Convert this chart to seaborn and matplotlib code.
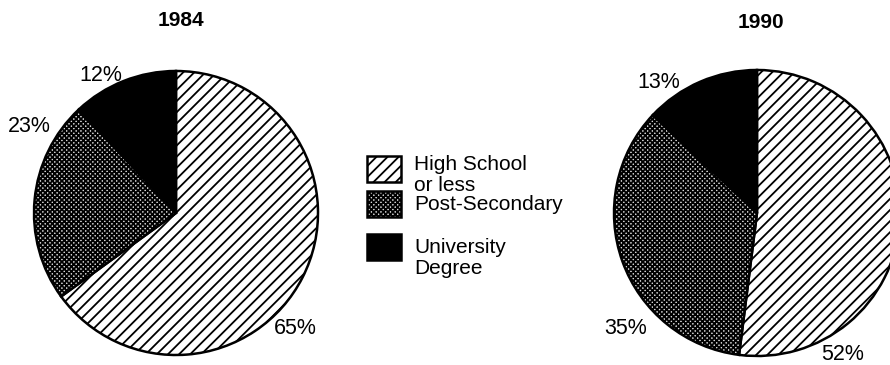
import matplotlib
matplotlib.use("Agg")
import matplotlib.pyplot as plt
import seaborn as sns
from matplotlib.patches import Rectangle

# data
categories = ["High School\nor less", "Post-Secondary", "University\nDegree"]
years = ["1984", "1990"]
shares_1984 = [65, 23, 12]
shares_1990 = [52, 35, 13]

# styling per category
fills = ["white", "#d8d8d8", "black"]
hatches = ["///", "xxxxxxx", None]

# label spots (in pie radius units), placed by hand like the original
label_pos_1984 = [(0.84, -0.81), (-1.03, 0.61), (-0.53, 0.97)]
label_pos_1990 = [(0.60, -0.99), (-0.92, -0.81), (-0.69, 0.91)]

sns.set_theme(style="white")
plt.rcParams["font.family"] = ["Liberation Sans", "DejaVu Sans"]
plt.rcParams["text.color"] = "black"
plt.rcParams["hatch.linewidth"] = 1.3

fig = plt.figure(figsize=(8.9, 3.65), dpi=100)
W, H = 890, 365


def pie_axes(cx, cy, r):
    return fig.add_axes([(cx - r) / W, (H - cy - r) / H, 2 * r / W, 2 * r / H])


def draw_pie(ax, values, label_pos):
    wedges, _ = ax.pie(values, startangle=90, counterclock=False, radius=1,
                       colors=fills,
                       wedgeprops=dict(edgecolor="black", linewidth=1.8))
    for w, h in zip(wedges, hatches):
        if h:
            w.set_hatch(h)
    for v, (x, y) in zip(values, label_pos):
        ax.text(x, y, f"{v}%", ha="center", va="center", fontsize=15.5,
                color="black", clip_on=False)
    ax.set_xlim(-1, 1)
    ax.set_ylim(-1, 1)
    ax.axis("off")


ax1 = pie_axes(176, 213, 142)
draw_pie(ax1, shares_1984, label_pos_1984)
ax2 = pie_axes(757, 213, 143)
draw_pie(ax2, shares_1990, label_pos_1990)

fig.text(181 / W, 1 - 20 / H, years[0], ha="center", va="center",
         fontsize=15, fontweight="bold", color="black")
fig.text(761 / W, 1 - 22 / H, years[1], ha="center", va="center",
         fontsize=15, fontweight="bold", color="black")

# legend drawn by hand in pixel space
lax = fig.add_axes([0, 0, 1, 1], facecolor="none")
lax.set_xlim(0, W)
lax.set_ylim(H, 0)
lax.axis("off")
box_tops = [156, 191, 234]
text_y = [175, 204, 258]
for cat, fc, h, top, ty in zip(categories, fills, hatches, box_tops, text_y):
    lax.add_patch(Rectangle((367, top), 34, 26, facecolor=fc, edgecolor="black",
                            linewidth=1.8, hatch=h))
    lax.text(414, ty, cat, ha="left", va="center", fontsize=15,
             linespacing=1.1, color="black")

fig.savefig("out.png", dpi=100, facecolor="white")
